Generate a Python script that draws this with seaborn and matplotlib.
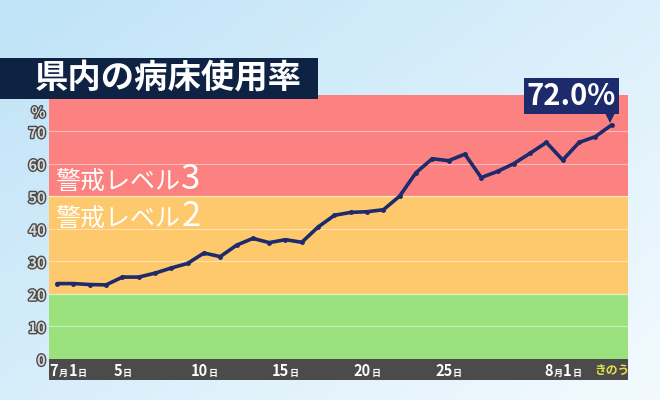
## ---------------------------------------------------------------
## libraries
## ---------------------------------------------------------------
import numpy as np
import pandas as pd
import matplotlib as mpl
import matplotlib.pyplot as plt
import matplotlib.patheffects as pe
from matplotlib.patches import Rectangle
from matplotlib.transforms import ScaledTranslation
from matplotlib.offsetbox import TextArea, HPacker, AnnotationBbox
import seaborn as sns

## ---------------------------------------------------------------
## data (7/1 .. 8/4, last point = "きのう")
## ---------------------------------------------------------------
days = list(range(35))
rate = [23.2, 23.2, 22.9, 22.8, 25.2, 25.2, 26.4, 28.0, 29.4, 32.6,
        31.5, 35.0, 37.1, 35.8, 36.7, 35.9, 40.6, 44.2, 45.1, 45.3,
        45.9, 50.1, 57.3, 61.6, 61.0, 63.0, 55.8, 57.7, 60.1, 63.3,
        66.6, 61.2, 66.6, 68.4, 72.0]
tick_pos = [0, 4, 9, 14, 19, 24, 31]
tick_num = ['7', '5', '10', '15', '20', '25', '8']
yticks = [0, 10, 20, 30, 40, 50, 60, 70]
bands = [(0, 20, '#9be27e'), (20, 50, '#fdc96c'), (50, 90, '#fc8282')]
title = '県内の病床使用率'

df = pd.DataFrame({'day': days, 'rate': rate})

## ---------------------------------------------------------------
## style
## ---------------------------------------------------------------
sns.set_style('white')
mpl.rcParams['font.family'] = ['Noto Sans CJK JP', 'DejaVu Sans']
navy = '#1d2a6c'

W, H = 660, 400
fig = plt.figure(figsize=(6.6, 4), dpi=100)

# background gradient
bg = fig.add_axes([0, 0, 1, 1], zorder=-5)
gx = np.linspace(0, 1, 200)
gy = np.linspace(0, 1, 120)
G = np.clip(0.55 * gx[None, :] + 0.45 * gy[:, None], 0, 1)
cmap = mpl.colors.LinearSegmentedColormap.from_list('bg', ['#bfe3f7', '#f3fafe'])
bg.imshow(G, cmap=cmap, aspect='auto', extent=[0, 1, 0, 1], origin='upper')
bg.axis('off')

## ---------------------------------------------------------------
## main axes
## ---------------------------------------------------------------
ax = fig.add_axes([49 / W, 41 / H, 579 / W, 264 / H])
ymax = 81.2
for lo, hi, c in bands:
    ax.axhspan(lo, min(hi, ymax), color=c, lw=0, zorder=0)
for g in [10, 30, 40, 60, 70]:
    ax.axhline(g, color='white', lw=0.8, alpha=0.45, zorder=1)
for g in [20, 50]:
    ax.axhline(g, color='white', lw=0.9, alpha=0.6, zorder=1)

sns.lineplot(data=df, x='day', y='rate', ax=ax, color=navy, lw=2.6,
             marker='o', markersize=3.5, markeredgewidth=0, zorder=5)

ax.set_xlim(-0.5, 35.0)
ax.set_ylim(0, ymax)
ax.set_xticks([])
ax.set_yticks(yticks + [76.3])
ax.set_yticklabels([str(v) for v in yticks] + ['%'])
ax.tick_params(axis='y', length=0, pad=2.5)
for lbl in ax.get_yticklabels():
    lbl.set_fontsize(10.5)
    lbl.set_fontweight('bold')
    lbl.set_color('#d9d9d9')
    lbl.set_path_effects([pe.withStroke(linewidth=2, foreground='#4a4a4a')])
ax.set_xlabel('')
ax.set_ylabel('')
for s in ax.spines.values():
    s.set_visible(False)

# level labels
for txt, num, yv in [('警戒レベル', '3', 55.2), ('警戒レベル', '2', 43.8)]:
    box = HPacker(children=[
        TextArea(txt, textprops=dict(color='white', fontsize=18)),
        TextArea(num, textprops=dict(color='white', fontsize=25))],
        align='baseline', pad=0, sep=1)
    ab = AnnotationBbox(box, (0.01, yv), xycoords=('axes fraction', 'data'),
                        box_alignment=(0, 0.5), frameon=False, zorder=4)
    ax.add_artist(ab)

# last value callout: small pointer + label box
ax.plot(days[-1], rate[-1], marker='v', ms=11, color=navy, mew=0, zorder=6,
        transform=ax.transData + ScaledTranslation(-1 / 72, 7 / 72, fig.dpi_scale_trans))
ax.annotate(f'{rate[-1]:.1f}%', xy=(days[-1], rate[-1]), xytext=(-29, 21),
            textcoords='offset points', ha='center', va='center',
            fontsize=21, fontweight='bold', color='white',
            bbox=dict(boxstyle='square,pad=0.1', fc=navy, ec='none'),
            annotation_clip=False, zorder=7)

## ---------------------------------------------------------------
## date bar
## ---------------------------------------------------------------
bar = fig.add_axes([49 / W, 20 / H, 579 / W, 21 / H])
bar.set_facecolor('#4b4b4b')
bar.set_xlim(ax.get_xlim())
bar.set_ylim(0, 1)
bar.set_xticks([])
bar.set_yticks([])
for s in bar.spines.values():
    s.set_visible(False)

big = dict(color='white', fontsize=10.5, fontweight='bold')
small = dict(color='white', fontsize=6.5, fontweight='bold')
for p, n in zip(tick_pos, tick_num):
    if n in ('7', '8'):
        parts = [TextArea(n, textprops=big), TextArea('月', textprops=small),
                 TextArea('1', textprops=big), TextArea('日', textprops=small)]
    else:
        parts = [TextArea(n, textprops=big), TextArea('日', textprops=small)]
    box = HPacker(children=parts, align='baseline', pad=0, sep=0.5)
    ha = 0.2 if p == 0 else 0.5
    bar.add_artist(AnnotationBbox(box, (p, 0.45), xycoords=('data', 'axes fraction'),
                                  box_alignment=(ha, 0.5), frameon=False))
bar.text(days[-1], 0.45, 'きのう', ha='center', va='center', color='#e6e050',
         fontsize=8.5, fontweight='bold')

## ---------------------------------------------------------------
## title
## ---------------------------------------------------------------
fig.patches.append(Rectangle((0, 1 - 99 / H), 318 / W, 41 / H, transform=fig.transFigure,
                             facecolor='#0e2343', edgecolor='none', zorder=8))
fig.text(168 / W, 1 - 79 / H, title, ha='center', va='center', color='white',
         fontsize=24, fontweight='bold', zorder=9)

plt.savefig('out.png', dpi=100)
